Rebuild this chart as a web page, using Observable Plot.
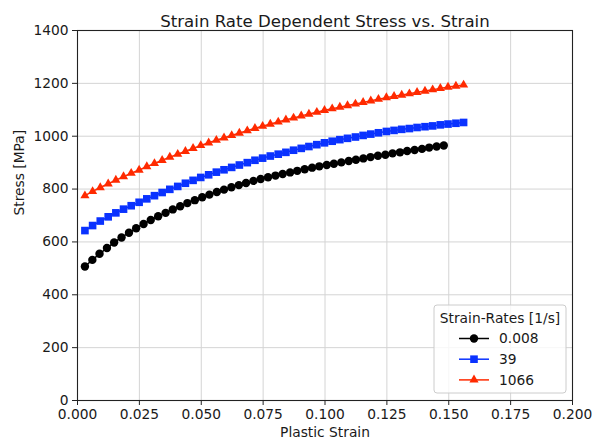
<!DOCTYPE html>
<html>
<head>
<meta charset="utf-8">
<script src="https://cdn.jsdelivr.net/npm/d3@7"></script>
<script src="https://cdn.jsdelivr.net/npm/@observablehq/plot@0.6"></script>
<style>
  body { margin: 0; background: #fff; }
  svg { display: block; }
</style>
</head>
<body>
<div id="chart"></div>
<script>
// Flow stress curves at three strain rates
const rateLabels = ["0.008", "39", "1066"];
const legendTitle = "Strain-Rates [1/s]";

const strainSlow = [0.0030, 0.0060, 0.0089, 0.0119, 0.0148, 0.0178, 0.0208, 0.0237, 0.0267, 0.0296,
  0.0326, 0.0356, 0.0385, 0.0415, 0.0444, 0.0474, 0.0504, 0.0533, 0.0563, 0.0592,
  0.0622, 0.0652, 0.0681, 0.0711, 0.0740, 0.0770, 0.0800, 0.0829, 0.0859, 0.0888,
  0.0918, 0.0948, 0.0977, 0.1007, 0.1036, 0.1066, 0.1096, 0.1125, 0.1155, 0.1184,
  0.1214, 0.1244, 0.1273, 0.1303, 0.1332, 0.1362, 0.1392, 0.1421, 0.1451, 0.1480];
const stressSlow = [507, 532, 555, 577, 598, 617, 635, 652, 668, 683,
  697, 710, 723, 735, 747, 758, 769, 779, 789, 798,
  807, 815, 823, 831, 838, 845, 851, 857, 863, 869,
  875, 881, 886, 891, 896, 901, 906, 911, 916, 921,
  926, 930, 935, 939, 944, 948, 952, 957, 961, 965];

const strainMid = [0.0030, 0.0061, 0.0092, 0.0124, 0.0155, 0.0186, 0.0217, 0.0249, 0.0280, 0.0311,
  0.0342, 0.0373, 0.0405, 0.0436, 0.0467, 0.0498, 0.0530, 0.0561, 0.0592, 0.0623,
  0.0654, 0.0686, 0.0717, 0.0748, 0.0779, 0.0811, 0.0842, 0.0873, 0.0904, 0.0935,
  0.0967, 0.0998, 0.1029, 0.1060, 0.1091, 0.1123, 0.1154, 0.1185, 0.1216, 0.1248,
  0.1279, 0.1310, 0.1341, 0.1372, 0.1404, 0.1435, 0.1466, 0.1497, 0.1529, 0.1560];
const stressMid = [643, 662, 679, 695, 710, 724, 737, 750, 763, 775,
  787, 799, 810, 822, 833, 844, 854, 864, 873, 882,
  891, 900, 909, 917, 925, 932, 939, 947, 954, 961,
  968, 975, 981, 987, 992, 997, 1003, 1008, 1013, 1018,
  1022, 1026, 1029, 1033, 1036, 1039, 1043, 1046, 1049, 1052];

const strainFast = [0.0030, 0.0061, 0.0092, 0.0124, 0.0155, 0.0186, 0.0217, 0.0249, 0.0280, 0.0311,
  0.0342, 0.0373, 0.0405, 0.0436, 0.0467, 0.0498, 0.0530, 0.0561, 0.0592, 0.0623,
  0.0654, 0.0686, 0.0717, 0.0748, 0.0779, 0.0811, 0.0842, 0.0873, 0.0904, 0.0935,
  0.0967, 0.0998, 0.1029, 0.1060, 0.1091, 0.1123, 0.1154, 0.1185, 0.1216, 0.1248,
  0.1279, 0.1310, 0.1341, 0.1372, 0.1404, 0.1435, 0.1466, 0.1497, 0.1529, 0.1560];
const stressFast = [775, 791, 806, 820, 834, 847, 860, 872, 885, 897,
  909, 921, 932, 943, 954, 965, 975, 985, 994, 1003,
  1012, 1021, 1030, 1038, 1046, 1054, 1062, 1069, 1077, 1084,
  1091, 1098, 1104, 1110, 1116, 1122, 1128, 1134, 1140, 1146,
  1151, 1156, 1161, 1166, 1171, 1176, 1181, 1186, 1190, 1194];

const xTicks = [0, 0.025, 0.05, 0.075, 0.1, 0.125, 0.15, 0.175, 0.2];
const yTicks = [0, 200, 400, 600, 800, 1000, 1200, 1400];

// Styling per series
const series = [
  {label: rateLabels[0], strain: strainSlow, stress: stressSlow, color: "#000000", symbol: "circle", r: 4.2},
  {label: rateLabels[1], strain: strainMid, stress: stressMid, color: "#0a32ff", symbol: "square", r: 4.3},
  {label: rateLabels[2], strain: strainFast, stress: stressFast, color: "#ff2a00", symbol: "triangle", r: 3.4}
];
const symbolTypes = {circle: d3.symbolCircle, square: d3.symbolSquare, triangle: d3.symbolTriangle};

const W = 603, H = 446;
const margin = {top: 30, right: 31, bottom: 46, left: 77};
const font = "'DejaVu Sans', sans-serif";

const seriesMarks = series.flatMap(s => {
  const rows = s.strain.map((x, i) => ({strain: x, stress: s.stress[i]}));
  return [
    Plot.line(rows, {x: "strain", y: "stress", stroke: s.color, strokeWidth: 1.5}),
    Plot.dot(rows, {x: "strain", y: "stress", fill: s.color, stroke: "none", symbol: s.symbol, r: s.r})
  ];
});

const chart = Plot.plot({
  width: W,
  height: H,
  marginTop: margin.top,
  marginRight: margin.right,
  marginBottom: margin.bottom,
  marginLeft: margin.left,
  style: {fontFamily: font, fontSize: "13.8px", color: "#1a1a1a", background: "#fff", overflow: "visible"},
  x: {domain: [0, 0.2]},
  y: {domain: [0, 1400]},
  marks: [
    Plot.gridX(xTicks, {stroke: "#d4d4d4", strokeOpacity: 1, strokeWidth: 1}),
    Plot.gridY(yTicks, {stroke: "#d4d4d4", strokeOpacity: 1, strokeWidth: 1}),
    ...seriesMarks,
    Plot.frame({stroke: "#222", strokeWidth: 1.1}),
    Plot.axisX(xTicks, {tickSize: 5, tickPadding: 4, tickFormat: d3.format(".3f"), label: null, stroke: "#222"}),
    Plot.axisY(yTicks, {tickSize: 5, tickPadding: 4, tickFormat: d3.format("d"), label: null, stroke: "#222"}),
    Plot.text(["Strain Rate Dependent Stress vs. Strain"], {frameAnchor: "top", dy: -15, fontSize: 16.6}),
    Plot.text(["Plastic Strain"], {frameAnchor: "bottom", dy: 36, fontSize: 13.8}),
    Plot.text(["Stress [MPa]"], {frameAnchor: "left", dx: -58, rotate: -90, fontSize: 13.8})
  ]
});
document.getElementById("chart").appendChild(chart);

// Legend box in the lower right corner of the frame
const boxW = 132, boxH = 88;
const boxRight = W - margin.right - 6;
const boxBottom = H - margin.bottom - 7;
const boxLeft = boxRight - boxW, boxTop = boxBottom - boxH;
const legend = d3.select(chart).append("g")
  .attr("font-family", font)
  .attr("font-size", 13.8)
  .attr("fill", "#1a1a1a");
legend.append("rect")
  .attr("x", boxLeft).attr("y", boxTop)
  .attr("width", boxW).attr("height", boxH)
  .attr("rx", 3)
  .attr("fill", "#fff").attr("fill-opacity", 0.8)
  .attr("stroke", "#cccccc").attr("stroke-width", 1);
legend.append("text")
  .attr("x", boxLeft + boxW / 2).attr("y", boxTop + 13)
  .attr("dy", "0.35em").attr("text-anchor", "middle")
  .text(legendTitle);
series.forEach((s, i) => {
  const cy = boxTop + 33.5 + i * 20.7;
  const lx = boxLeft + 25;
  legend.append("line")
    .attr("x1", lx).attr("x2", lx + 30).attr("y1", cy).attr("y2", cy)
    .attr("stroke", s.color).attr("stroke-width", 1.5);
  legend.append("path")
    .attr("transform", `translate(${lx + 15},${cy})`)
    .attr("d", d3.symbol(symbolTypes[s.symbol], s.r * s.r * Math.PI)())
    .attr("fill", s.color);
  legend.append("text")
    .attr("x", lx + 40).attr("y", cy).attr("dy", "0.35em")
    .attr("text-anchor", "start")
    .text(s.label);
});
</script>
</body>
</html>
